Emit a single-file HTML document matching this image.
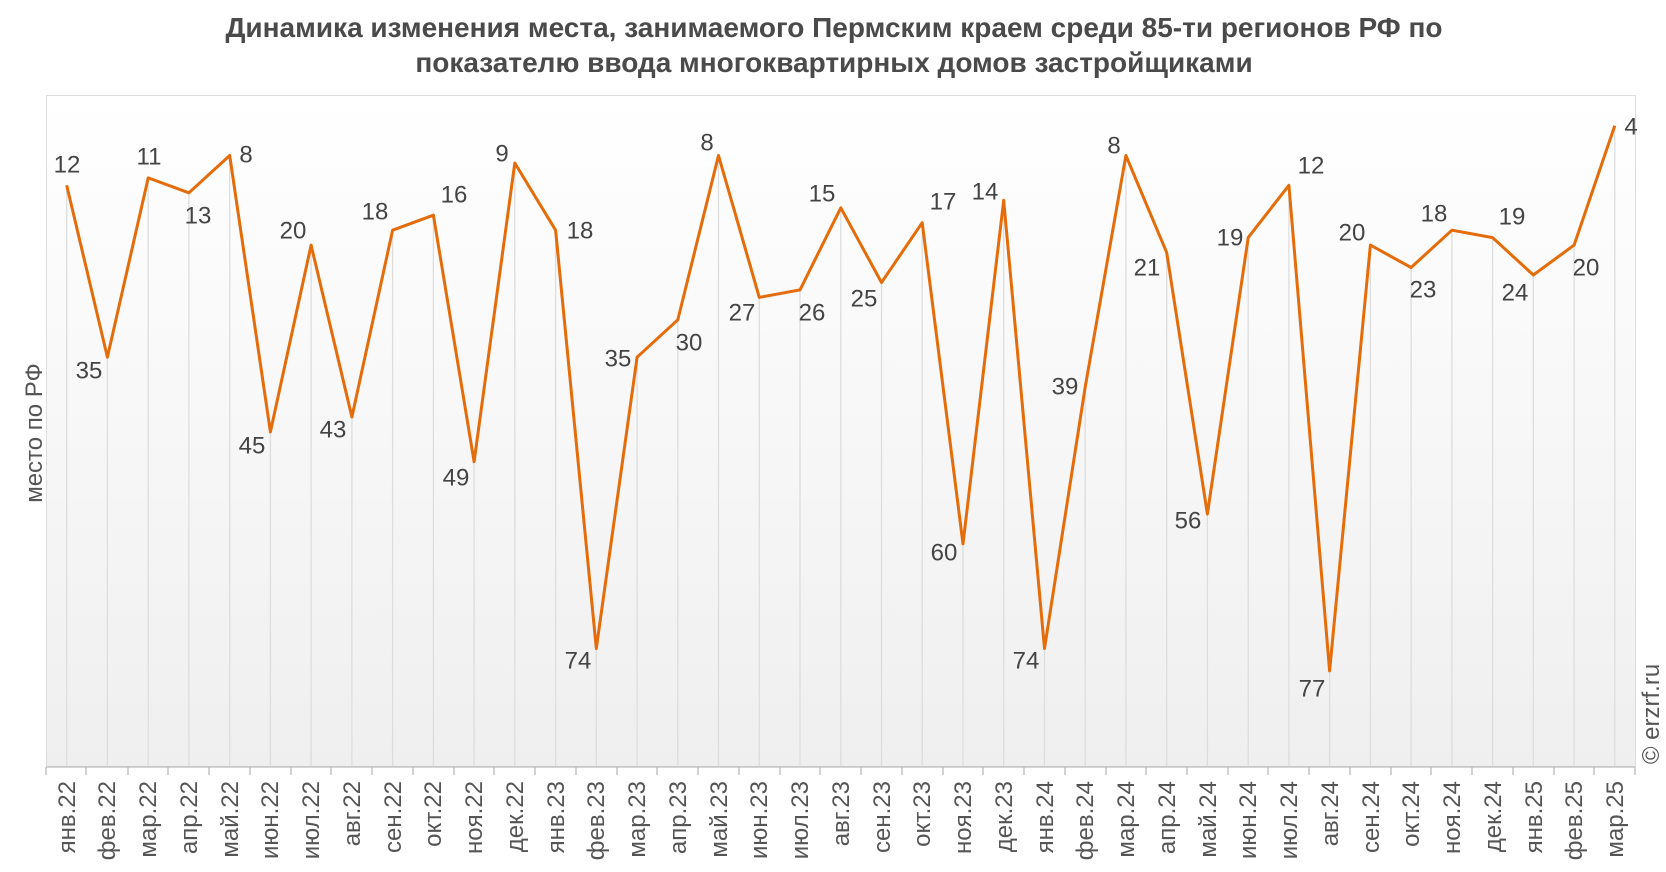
<!DOCTYPE html>
<html><head><meta charset="utf-8"><style>
body{margin:0;background:#fff}
svg{display:block;font-family:"Liberation Sans",sans-serif}
.t{font-weight:bold;font-size:28px;fill:#4a4a4a}
.l{font-size:24px;fill:#444}
.k{font-size:24px;fill:#555}
</style></head><body>
<svg width="1666" height="872" viewBox="0 0 1666 872">
<defs><linearGradient id="g" x1="0" y1="0" x2="0" y2="1"><stop offset="0" stop-color="#fff"/><stop offset="1" stop-color="#efefef"/></linearGradient></defs>
<text class="t" x="834" y="37" text-anchor="middle">Динамика изменения места, занимаемого Пермским краем среди 85-ти регионов РФ по</text>
<text class="t" x="834" y="72" text-anchor="middle">показателю ввода многоквартирных домов застройщиками</text>
<rect x="46.5" y="95.5" width="1589" height="671" fill="url(#g)" stroke="#ddd"/>
<g stroke="#ddd" stroke-width="1.3">
<path d="M66.7 185V767M107.4 357V767M148.2 178V767M188.9 193V767M229.7 155V767M270.4 432V767M311.1 245V767M351.9 417V767M392.6 230V767M433.4 215V767M474.1 462V767M514.8 163V767M555.6 230V767M596.3 648V767M637.1 357V767M677.8 320V767M718.5 155V767M759.3 297V767M800 290V767M840.8 208V767M881.5 282V767M922.2 223V767M963 544V767M1003.7 200V767M1044.5 648V767M1085.2 387V767M1125.9 155V767M1166.7 253V767M1207.4 514V767M1248.2 238V767M1288.9 185V767M1329.6 671V767M1370.4 245V767M1411.1 267V767M1451.9 230V767M1492.6 238V767M1533.3 275V767M1574.1 245V767M1614.8 126V767"/>
</g>
<g stroke="#bbb" stroke-width="1.3">
<path d="M46 767H1635M46 767v8M86 767v8M128 767v8M168 767v8M209 767v8M250 767v8M291 767v8M331 767v8M372 767v8M413 767v8M454 767v8M494 767v8M535 767v8M576 767v8M617 767v8M657 767v8M698 767v8M739 767v8M780 767v8M820 767v8M861 767v8M902 767v8M943 767v8M983 767v8M1024 767v8M1065 767v8M1106 767v8M1146 767v8M1187 767v8M1228 767v8M1268 767v8M1309 767v8M1350 767v8M1391 767v8M1431 767v8M1472 767v8M1513 767v8M1554 767v8M1594 767v8M1635 767v8"/>
</g>
<polyline fill="none" stroke="#e46c0a" stroke-width="3" stroke-linejoin="round" points="66.7,185.3 107.4,357.2 148.2,177.9 188.9,192.8 229.7,155.5 270.4,431.9 311.1,245.1 351.9,417 392.6,230.2 433.4,215.2 474.1,461.7 514.8,163 555.6,230.2 596.3,648.5 637.1,357.2 677.8,319.8 718.5,155.5 759.3,297.4 800,289.9 840.8,207.8 881.5,282.5 922.2,222.7 963,543.9 1003.7,200.3 1044.5,648.5 1085.2,387 1125.9,155.5 1166.7,252.6 1207.4,514 1248.2,237.6 1288.9,185.3 1329.6,670.9 1370.4,245.1 1411.1,267.5 1451.9,230.2 1492.6,237.6 1533.3,275 1574.1,245.1 1614.8,125.6"/>
<g class="l" text-anchor="middle" dominant-baseline="central">
<text x="67" y="165">12</text><text x="89" y="371">35</text><text x="149" y="157">11</text><text x="198" y="216">13</text><text x="246" y="155">8</text><text x="252" y="446">45</text><text x="293" y="231">20</text><text x="333" y="430">43</text><text x="375" y="212">18</text><text x="454" y="195">16</text><text x="456" y="478">49</text><text x="502" y="154">9</text><text x="580" y="231">18</text><text x="578" y="661">74</text><text x="618" y="359">35</text><text x="689" y="343">30</text><text x="707" y="143">8</text><text x="742" y="313">27</text><text x="812" y="313">26</text><text x="822" y="194">15</text><text x="864" y="299">25</text><text x="943" y="202">17</text><text x="944" y="553">60</text><text x="985" y="192">14</text><text x="1026" y="661">74</text><text x="1065" y="387">39</text><text x="1114" y="146">8</text><text x="1147" y="268">21</text><text x="1188" y="521">56</text><text x="1230" y="238">19</text><text x="1311" y="166">12</text><text x="1312" y="689">77</text><text x="1352" y="233">20</text><text x="1423" y="290">23</text><text x="1434" y="214">18</text><text x="1512" y="217">19</text><text x="1515" y="293">24</text><text x="1586" y="268">20</text><text x="1631" y="127">4</text>
</g>
<g class="k" text-anchor="end">
<text transform="translate(75,781) rotate(-90)">янв.22</text><text transform="translate(115,781) rotate(-90)">фев.22</text><text transform="translate(156,781) rotate(-90)">мар.22</text><text transform="translate(197,781) rotate(-90)">апр.22</text><text transform="translate(238,781) rotate(-90)">май.22</text><text transform="translate(278,781) rotate(-90)">июн.22</text><text transform="translate(319,781) rotate(-90)">июл.22</text><text transform="translate(360,781) rotate(-90)">авг.22</text><text transform="translate(401,781) rotate(-90)">сен.22</text><text transform="translate(441,781) rotate(-90)">окт.22</text><text transform="translate(482,781) rotate(-90)">ноя.22</text><text transform="translate(523,781) rotate(-90)">дек.22</text><text transform="translate(564,781) rotate(-90)">янв.23</text><text transform="translate(604,781) rotate(-90)">фев.23</text><text transform="translate(645,781) rotate(-90)">мар.23</text><text transform="translate(686,781) rotate(-90)">апр.23</text><text transform="translate(727,781) rotate(-90)">май.23</text><text transform="translate(767,781) rotate(-90)">июн.23</text><text transform="translate(808,781) rotate(-90)">июл.23</text><text transform="translate(849,781) rotate(-90)">авг.23</text><text transform="translate(890,781) rotate(-90)">сен.23</text><text transform="translate(930,781) rotate(-90)">окт.23</text><text transform="translate(971,781) rotate(-90)">ноя.23</text><text transform="translate(1012,781) rotate(-90)">дек.23</text><text transform="translate(1053,781) rotate(-90)">янв.24</text><text transform="translate(1093,781) rotate(-90)">фев.24</text><text transform="translate(1134,781) rotate(-90)">мар.24</text><text transform="translate(1175,781) rotate(-90)">апр.24</text><text transform="translate(1216,781) rotate(-90)">май.24</text><text transform="translate(1256,781) rotate(-90)">июн.24</text><text transform="translate(1297,781) rotate(-90)">июл.24</text><text transform="translate(1338,781) rotate(-90)">авг.24</text><text transform="translate(1379,781) rotate(-90)">сен.24</text><text transform="translate(1419,781) rotate(-90)">окт.24</text><text transform="translate(1460,781) rotate(-90)">ноя.24</text><text transform="translate(1501,781) rotate(-90)">дек.24</text><text transform="translate(1542,781) rotate(-90)">янв.25</text><text transform="translate(1582,781) rotate(-90)">фев.25</text><text transform="translate(1623,781) rotate(-90)">мар.25</text>
</g>
<text class="k" text-anchor="middle" transform="translate(42,433) rotate(-90)">место по РФ</text>
<text class="k" text-anchor="middle" transform="translate(1659,714) rotate(-90)">© erzrf.ru</text>
</svg>
</body></html>
